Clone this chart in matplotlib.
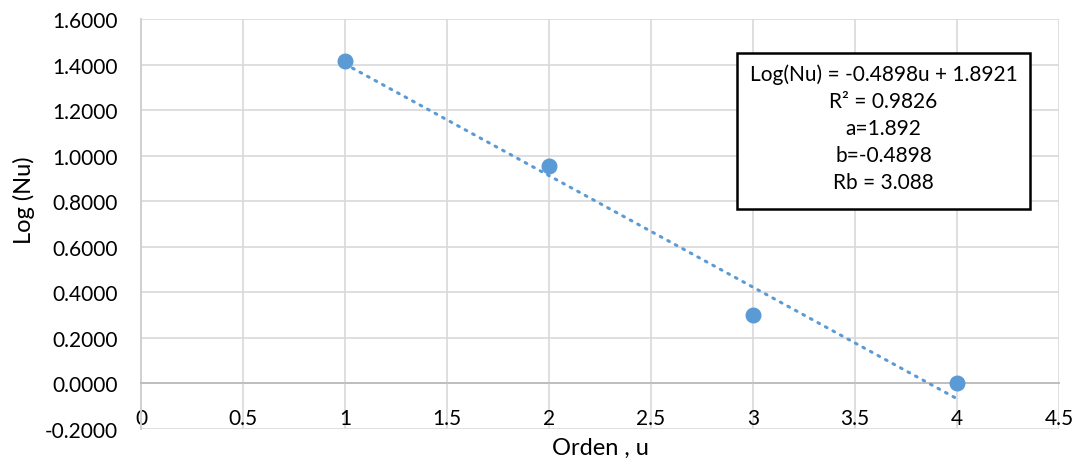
import numpy as np
import matplotlib.pyplot as plt
from matplotlib.patches import Rectangle

plt.rcParams['font.family'] = ['Lato', 'DejaVu Sans']

# datos
orden = [1, 2, 3, 4]
log_nu = [1.4150, 0.9542, 0.3010, 0.0000]
x_ticks = [0, 0.5, 1, 1.5, 2, 2.5, 3, 3.5, 4, 4.5]
y_ticks = [-0.2, 0.0, 0.2, 0.4, 0.6, 0.8, 1.0, 1.2, 1.4, 1.6]
caja = ['Log(Nu) = -0.4898u + 1.8921', 'R² = 0.9826', 'a=1.892', 'b=-0.4898', 'Rb = 3.088']

azul = '#5B9BD5'

fig = plt.figure(figsize=(10.8, 4.64), dpi=100)
ax = fig.add_axes([141/1080, 34/464, 918/1080, 410/464])

# linea de tendencia (ajuste lineal)
b, a = np.polyfit(orden, log_nu, 1)
xt = np.array([orden[0], orden[-1]])
ax.plot(xt, a + b * xt, linestyle=(0, (0.6, 2.2)), color=azul, lw=2.2,
        dash_capstyle='round', zorder=3)
ax.plot(orden, log_nu, 'o', color=azul, ms=10.5, zorder=4)

ax.set_xlim(0, 4.5)
ax.set_ylim(-0.2, 1.6)
ax.set_xticks(x_ticks)
ax.set_xticklabels([f'{v:g}' for v in x_ticks])
ax.set_yticks(y_ticks)
ax.set_yticklabels([f'{v:.4f}' for v in y_ticks])
ax.grid(True, color='#d9d9d9', lw=1.2)
ax.set_axisbelow(True)

for s in ['top', 'right']:
    ax.spines[s].set_visible(False)
ax.spines['left'].set_color('#d0d0d0')
ax.spines['left'].set_linewidth(1.4)
ax.spines['bottom'].set_position(('data', 0))
ax.spines['bottom'].set_color('#bfbfbf')
ax.spines['bottom'].set_linewidth(1.4)
ax.tick_params(length=0, labelsize=15, colors='#000000')
ax.tick_params(axis='x', pad=18)
ax.tick_params(axis='y', pad=17)

ax.set_xlabel('Orden , u', fontsize=17)
ax.xaxis.set_label_coords(0.5, -0.02)
ax.set_ylabel('Log (Nu)', fontsize=17)
ax.yaxis.set_label_coords(-0.115, 0.56)

# cuadro con la ecuacion
x0, x1 = (737-141)/918, (1030-141)/918
y0, y1 = (430-210)/410, (430-54)/410
ax.add_patch(Rectangle((x0, y0), x1-x0, y1-y0, transform=ax.transAxes,
                       facecolor='white', edgecolor='black', lw=1.8, zorder=5))
xc = (x0 + x1) / 2
for i, t in enumerate(caja):
    yy = (430 - (75 + 27 * i)) / 410
    ax.text(xc, yy, t, transform=ax.transAxes, ha='center', va='center',
            fontsize=15, zorder=6)

fig.savefig('out.png', dpi=100)
